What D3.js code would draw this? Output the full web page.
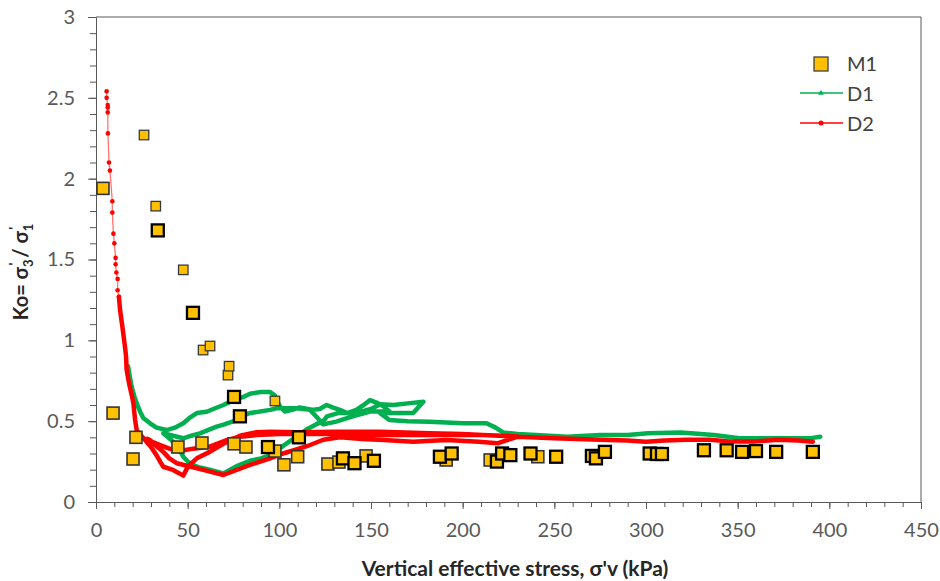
<!DOCTYPE html>
<html>
<head>
<meta charset="utf-8">
<script src="https://cdn.jsdelivr.net/npm/d3@7/dist/d3.min.js"></script>
<style>
  body { margin: 0; background: #fff; }
  svg { display: block; font-family: Lato, "Open Sans", sans-serif; }
</style>
</head>
<body>
<svg width="940" height="581"></svg>
<script>
// ---- data ----
var xMajor = [0, 50, 100, 150, 200, 250, 300, 350, 400, 450];
var yMajor = [0, 0.5, 1, 1.5, 2, 2.5, 3];

// M1 squares: [stress kPa, Ko]
var m1Small = [[26.2,2.27],[32.6,1.83],[47.6,1.436],[58.4,0.94],[62.2,0.965],[72,0.785],[72.6,0.84],[97.6,0.625]];
var m1Thin = [[3.8,1.94],[9.3,0.55],[21.8,0.40],[20.2,0.266],[44.7,0.34],[57.8,0.365],[75.3,0.36],[81.8,0.34],
  [97.6,0.315],[102.5,0.23],[110,0.28],[126.5,0.235],[132.5,0.247],[147.3,0.285],[191,0.26],[215,0.26],[241,0.28]];
var m1Thick = [[33.7,1.68],[52.9,1.17],[75.3,0.65],[78.5,0.53],[93.8,0.34],[110.7,0.40],[134.7,0.27],[141,0.24],
  [151.6,0.255],[187.6,0.28],[194,0.30],[218.7,0.25],[221.5,0.30],[226,0.29],[237,0.30],[251,0.28],[270.5,0.285],
  [272.7,0.27],[277.6,0.31],[302,0.30],[306,0.297],[308.7,0.297],[331.6,0.32],[344,0.32],[352.4,0.31],[360,0.315],
  [371,0.31],[391,0.31]];

// D1 (green) readings
var d1 = [[17.5,0.84],[18.5,0.77],[19.5,0.71],[21,0.65],[22.2,0.61],[24,0.56],[25.8,0.52],[29.5,0.487],[33,0.46],
  [38.5,0.445],[43,0.46],[47.6,0.487],[51,0.52],[55,0.55],[60.4,0.558],[65,0.58],[69.5,0.60],[75,0.63],[80.4,0.65],
  [84,0.67],[90,0.68],[95,0.68],[97.5,0.66],[99,0.62],[100.4,0.59],[103,0.56],[107,0.57],[111,0.585],[118.5,0.57],
  [122,0.575],[125.8,0.60],[129,0.585],[133,0.57],[137,0.55],[142,0.57],[146,0.60],[149.5,0.63],[153,0.615],
  [157,0.59],[160,0.56],[149.5,0.56],[140,0.53],[131,0.497],[124,0.48],[120,0.53],[116.7,0.57],[109.5,0.58],
  [98.5,0.58],[95,0.57],[84,0.55],[78.5,0.53],[76.7,0.507],[70,0.48],[65.8,0.466],[60,0.44],[56.7,0.425],
  [52,0.41],[47.6,0.394],[42,0.41],[36.7,0.425],[40.4,0.39],[44,0.35],[47.6,0.28],[51,0.24],[56,0.215],[62,0.2],
  [69.5,0.177],[76.7,0.222],[84,0.255],[90,0.27],[95,0.29],[100,0.33],[105,0.37],[110,0.41],[115,0.45],
  [120,0.48],[124,0.50],[126,0.53],[132,0.55],[140,0.55],[145,0.56],[150,0.575],[155,0.605],[162,0.60],
  [170,0.61],[178.6,0.62],[173,0.55],[165,0.55],[155,0.55],[160,0.507],[170,0.50],[182,0.497],[200,0.487],
  [213,0.487],[218,0.46],[222,0.43],[230,0.42],[240,0.414],[257,0.404],[275,0.414],[290,0.415],[301,0.425],
  [319,0.43],[337,0.415],[351,0.394],[372,0.394],[390,0.395],[395,0.404]];

// D2 (red): first sparse readings, then the dense record
var d2Head = [[5.8,2.54],[5.8,2.50],[6.4,2.455],[6.4,2.44],[6.4,2.41],[6.5,2.28],[7.1,2.10],[7.6,2.05],[8.9,1.86],
  [8.9,1.79],[9.5,1.66],[10,1.60],[10.7,1.51],[10.7,1.47],[11.1,1.42],[11.8,1.38],[11.8,1.31],[12.5,1.27]];
var d2 = [[12.5,1.27],[13.1,1.19],[14.2,1.10],[14.9,1.04],[15.7,0.97],[16.4,0.90],[16.7,0.82],[17.6,0.76],
  [18.5,0.71],[19.5,0.66],[20.4,0.61],[21.3,0.51],[22.2,0.445],[24,0.42],
  [27,0.38],[30,0.34],[33,0.29],[35,0.25],[36.7,0.218],[42,0.198],[45,0.18],[47.6,0.163],[49.5,0.205],[52,0.24],
  [55,0.27],[62,0.31],[69.5,0.36],[78.5,0.41],[87.6,0.432],[95,0.435],[110,0.432],[130,0.435],[155,0.435],
  [182,0.425],[200,0.42],[211,0.414],[222,0.41],[230,0.405],
  [219,0.363],[209,0.373],[191,0.383],[173,0.373],[157,0.383],[145,0.39],[133,0.40],
  [124,0.385],[115,0.345],[108,0.32],[102,0.30],[95,0.27],[84,0.229],[76.7,0.198],[69.5,0.167],[62.2,0.188],
  [53,0.215],[44,0.24],[40,0.27],[36.7,0.31],[33,0.345],[29.5,0.383],
  [28,0.39],[31,0.37],[35,0.352],[40,0.33],[44,0.32],[48,0.32],[53,0.33],[62,0.342],[71.3,0.383],[78.5,0.404],
  [87.6,0.414],[100,0.42],[115,0.42],[130,0.42],[150,0.415],[170,0.415],[190,0.415],[211,0.414],[229.6,0.404],
  [250,0.395],[275,0.385],[290,0.38],[300,0.372],[310,0.38],[322,0.385],[335,0.385],[345,0.375],[360,0.375],
  [372,0.385],[383,0.38],[391,0.373]];

var legendItems = ["M1", "D1", "D2"];

// ---- layout ----
var svg = d3.select("svg");
var plot = {l: 96, r: 921, t: 17, b: 502};
var axisColor = "#595959";

var x = d3.scaleLinear().domain([0, 450]).range([plot.l, plot.r]);
var y = d3.scaleLinear().domain([0, 3]).range([plot.b, plot.t]);

var line = d3.line().x(d => x(d[0])).y(d => y(d[1]));

// frame (top + right)
svg.append("path")
  .attr("d", "M" + plot.l + "," + plot.t + "H" + plot.r + "V" + plot.b)
  .attr("fill", "none").attr("stroke", axisColor).attr("stroke-width", 1);

// minor ticks
svg.append("g")
  .attr("transform", "translate(" + plot.l + ",0)")
  .call(d3.axisLeft(y).tickValues(d3.range(0, 31).map(i => i / 10)).tickSize(6).tickFormat(""))
  .call(g => g.select(".domain").remove())
  .selectAll("line").attr("stroke", axisColor);
svg.append("g")
  .attr("transform", "translate(0," + plot.b + ")")
  .call(d3.axisBottom(x).tickValues(d3.range(0, 46).map(i => i * 10)).tickSize(5).tickFormat(""))
  .call(g => g.select(".domain").remove())
  .selectAll("line").attr("stroke", axisColor);

// major axes
var yAxis = svg.append("g")
  .attr("transform", "translate(" + plot.l + ",0)")
  .call(d3.axisLeft(y).tickValues(yMajor).tickSize(8).tickPadding(13).tickSizeOuter(0)
    .tickFormat(d3.format("~g")));
var xAxis = svg.append("g")
  .attr("transform", "translate(0," + plot.b + ")")
  .call(d3.axisBottom(x).tickValues(xMajor).tickSize(7).tickPadding(14).tickSizeOuter(0));

[xAxis, yAxis].forEach(function(g) {
  g.select(".domain").attr("stroke", axisColor);
  g.selectAll("line").attr("stroke", axisColor);
  g.selectAll("text")
    .attr("fill", axisColor)
    .style("font-size", "20px")
    .style("font-family", "Lato, 'Open Sans', sans-serif");
});

// D1 green
svg.append("path")
  .datum(d1)
  .attr("d", line)
  .attr("fill", "none")
  .attr("stroke", "#00B050")
  .attr("stroke-width", 4.5)
  .attr("stroke-linejoin", "round")
  .attr("stroke-linecap", "round");

// D2 red: sparse head thin with dots, dense part thick
svg.append("path")
  .datum(d2Head)
  .attr("d", line)
  .attr("fill", "none")
  .attr("stroke", "#FF0000")
  .attr("stroke-opacity", 0.55)
  .attr("stroke-width", 1.3);
svg.append("g").selectAll("circle")
  .data(d2Head)
  .enter().append("circle")
  .attr("cx", d => x(d[0]))
  .attr("cy", d => y(d[1]))
  .attr("r", 2.3)
  .attr("fill", "#FF0000");
svg.append("path")
  .datum(d2)
  .attr("d", line)
  .attr("fill", "none")
  .attr("stroke", "#FF0000")
  .attr("stroke-width", 4.5)
  .attr("stroke-linejoin", "round")
  .attr("stroke-linecap", "round");

// M1 squares
function squares(data, size, stroke, sw) {
  svg.append("g").selectAll("rect")
    .data(data)
    .enter().append("rect")
    .attr("x", d => x(d[0]) - size / 2)
    .attr("y", d => y(d[1]) - size / 2)
    .attr("width", size)
    .attr("height", size)
    .attr("fill", "#FFC000")
    .attr("stroke", stroke)
    .attr("stroke-width", sw);
}
squares(m1Small, 9.5, "#3a3a3a", 1.3);
squares(m1Thin, 12, "#333", 1.6);
squares(m1Thick, 12, "#000", 2.3);

// legend
var leg = svg.append("g");
leg.append("rect")
  .attr("x", 814).attr("y", 57).attr("width", 14).attr("height", 14)
  .attr("fill", "#FFC000").attr("stroke", "#404040").attr("stroke-width", 1.3);
leg.append("line").attr("x1", 800).attr("x2", 843).attr("y1", 93).attr("y2", 93)
  .attr("stroke", "#00B050").attr("stroke-width", 1.3);
leg.append("path").attr("d", d3.symbol(d3.symbolTriangle, 14)()).attr("transform", "translate(821,93)")
  .attr("fill", "#00B050");
leg.append("line").attr("x1", 800).attr("x2", 843).attr("y1", 123).attr("y2", 123)
  .attr("stroke", "#FF0000").attr("stroke-width", 1.3);
leg.append("circle").attr("cx", 821).attr("cy", 123).attr("r", 2.5).attr("fill", "#FF0000");
leg.selectAll("text")
  .data(legendItems)
  .enter().append("text")
  .attr("x", 847)
  .attr("y", (d, i) => 71 + i * 30)
  .attr("fill", "#404040")
  .style("font-size", "20px")
  .text(d => d);

// axis titles
svg.append("text")
  .attr("x", 515).attr("y", 576)
  .attr("text-anchor", "middle")
  .attr("font-weight", "bold")
  .attr("fill", "#262626")
  .style("font-size", "21px")
  .text("Vertical effective stress, σ'v (kPa)");

var yt = svg.append("text")
  .attr("transform", "translate(28,272) rotate(-90)")
  .attr("text-anchor", "middle")
  .attr("font-weight", "bold")
  .attr("fill", "#262626")
  .style("font-size", "20px");
yt.append("tspan").text("Ko= σ");
yt.append("tspan").attr("dy", 5).style("font-size", "13px").text("3");
yt.append("tspan").attr("dx", -6).attr("dy", -14).style("font-size", "14px").text("'");
yt.append("tspan").attr("dy", 9).text(" / σ");
yt.append("tspan").attr("dy", 5).style("font-size", "13px").text("1");
yt.append("tspan").attr("dx", -6).attr("dy", -14).style("font-size", "14px").text("'");
</script>
</body>
</html>
